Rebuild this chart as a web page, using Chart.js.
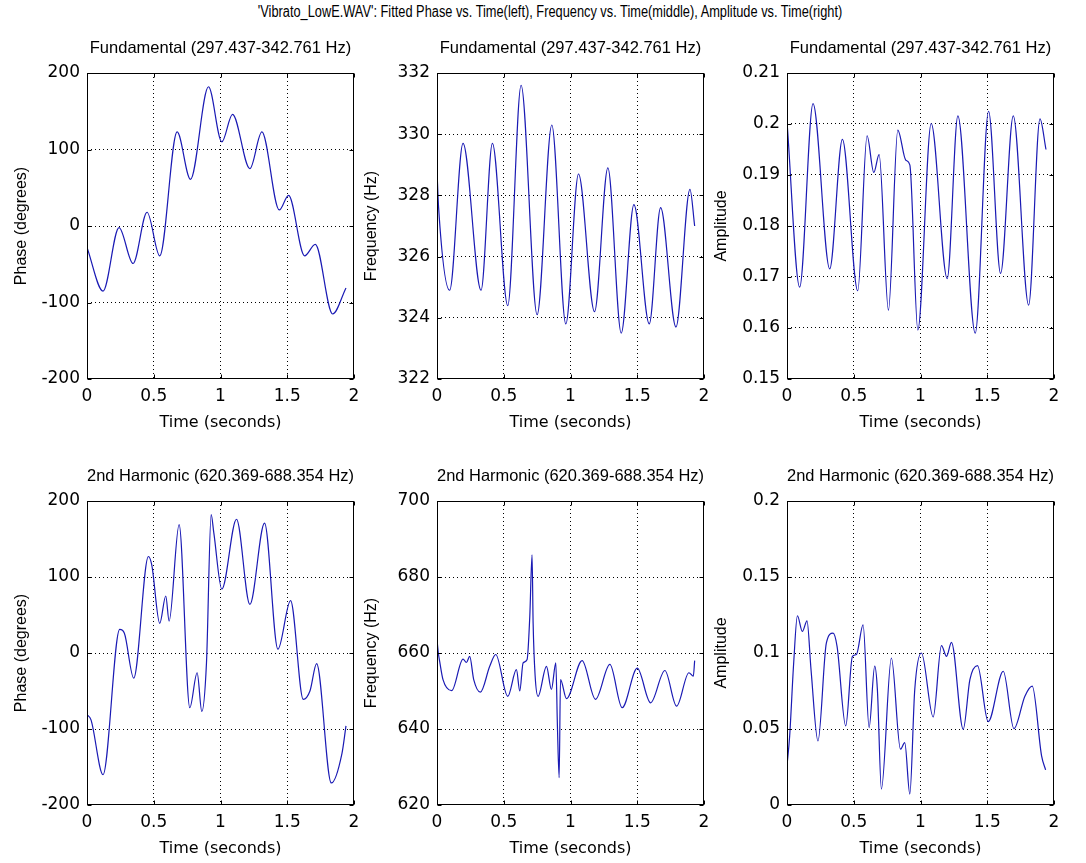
<!DOCTYPE html>
<html>
<head>
<meta charset="utf-8">
<script src="https://cdn.jsdelivr.net/npm/chart.js@4.4.1/dist/chart.umd.min.js"></script>
<style>
  html, body { margin: 0; padding: 0; background: #fff; }
  body { width: 1086px; height: 863px; position: relative; overflow: hidden; }
  canvas { position: absolute; }
  #suptitle { position: absolute; top: 3px; left: 0; width: 1100px; text-align: center;
    font: 16px "Liberation Sans", Arial, sans-serif; color: #000; white-space: nowrap;
    transform: scaleX(0.8); transform-origin: 550px 0; }
</style>
</head>
<body>
<div id="suptitle">'Vibrato_LowE.WAV': Fitted Phase vs. Time(left), Frequency vs. Time(middle), Amplitude vs. Time(right)</div>
<canvas id="c0"></canvas><canvas id="c1"></canvas><canvas id="c2"></canvas>
<canvas id="c3"></canvas><canvas id="c4"></canvas><canvas id="c5"></canvas>
<script>
// ---- time axis ----
const timeTicks = [0, 0.5, 1, 1.5, 2];

// ---- fundamental: phase (degrees) ----
const fundPhaseT = [0, 0.12, 0.24, 0.345, 0.45, 0.545, 0.675, 0.775, 0.91, 1.01, 1.09, 1.22, 1.31, 1.44, 1.51, 1.63, 1.71, 1.84, 1.94];
const fundPhaseV = [-28, -85, -2, -49, 18, -39, 123, 61, 182, 110, 146, 75, 123, 21, 40, -39, -24, -115, -81];
const phaseTicks = [-200, -100, 0, 100, 200];

// ---- fundamental: frequency (Hz) ----
const fundFreqT = [0, 0.012, 0.095, 0.195, 0.33, 0.415, 0.53, 0.63, 0.75, 0.86, 0.965, 1.06, 1.18, 1.28, 1.38, 1.475, 1.59, 1.675, 1.79, 1.895, 1.93];
const fundFreqV = [328.8, 327.6, 324.9, 329.7, 324.9, 329.7, 324.4, 331.6, 324.1, 330.3, 323.8, 328.7, 324.2, 328.9, 323.5, 327.7, 323.8, 327.6, 323.7, 328.2, 327.0];
const fundFreqTicks = [322, 324, 326, 328, 330, 332];

// ---- fundamental: amplitude ----
const fundAmpT = [0, 0.095, 0.195, 0.32, 0.415, 0.53, 0.60, 0.65, 0.69, 0.76, 0.83, 0.89, 0.92, 0.98, 1.08, 1.2, 1.28, 1.41, 1.51, 1.60, 1.695, 1.81, 1.895, 1.94];
const fundAmpV = [0.2005, 0.168, 0.204, 0.1716, 0.197, 0.1673, 0.1977, 0.1905, 0.194, 0.1635, 0.1988, 0.1929, 0.192, 0.1596, 0.2001, 0.1697, 0.2016, 0.159, 0.2025, 0.1707, 0.2016, 0.1645, 0.201, 0.195];
const fundAmpTicks = [0.15, 0.16, 0.17, 0.18, 0.19, 0.2, 0.21];

// ---- 2nd harmonic: phase (degrees) ----
const harmPhaseT = [0, 0.03, 0.12, 0.245, 0.28, 0.35, 0.46, 0.485, 0.545, 0.59, 0.615, 0.69, 0.77, 0.825, 0.86, 0.895, 0.93, 0.95, 1.01, 1.12, 1.22, 1.33, 1.43, 1.525, 1.62, 1.67, 1.72, 1.83, 1.91, 1.94];
const harmPhaseV = [-81, -88, -160, 31, 26, -33, 127, 116, 39, 75, 42, 169, -72, -26, -77, -13, 182, 158, 84, 176, 64, 171, 5, 69, -61, -50, -14, -171, -132, -96];

// ---- 2nd harmonic: frequency (Hz) ----
const harmFreqT = [0, 0.01, 0.02, 0.045, 0.11, 0.195, 0.22, 0.245, 0.275, 0.325, 0.395, 0.44, 0.53, 0.595, 0.62, 0.645, 0.675, 0.695, 0.712, 0.72, 0.735, 0.757, 0.82, 0.857, 0.89, 0.902, 0.915, 0.925, 0.97, 1.087, 1.187, 1.295, 1.387, 1.5, 1.6, 1.707, 1.795, 1.887, 1.92, 1.93];
const harmFreqV = [663.5, 660, 657.8, 653, 650.1, 658.4, 657.5, 659.1, 653, 649.7, 656.5, 659.6, 648.6, 655.6, 650, 657.4, 658.3, 669.6, 685.8, 667.9, 654, 648.6, 656.5, 650.4, 657.4, 640.8, 627.2, 653, 648, 658, 647.8, 657, 645.6, 656, 646.9, 655.4, 646, 654.8, 653.9, 658];
const harmFreqTicks = [620, 640, 660, 680, 700];

// ---- 2nd harmonic: amplitude ----
const harmAmpT = [0, 0.02, 0.05, 0.078, 0.115, 0.15, 0.18, 0.232, 0.295, 0.345, 0.375, 0.44, 0.49, 0.52, 0.57, 0.615, 0.657, 0.677, 0.707, 0.782, 0.85, 0.882, 0.92, 0.957, 1.007, 1.095, 1.157, 1.195, 1.232, 1.32, 1.37, 1.427, 1.507, 1.62, 1.70, 1.782, 1.837, 1.907, 1.937];
const harmAmpV = [0.0258, 0.0454, 0.0934, 0.1245, 0.1142, 0.1212, 0.089, 0.0421, 0.1066, 0.1131, 0.1044, 0.052, 0.0978, 0.099, 0.1186, 0.0509, 0.0913, 0.076, 0.0105, 0.0967, 0.0367, 0.041, 0.0072, 0.076, 0.1, 0.0579, 0.1048, 0.0978, 0.107, 0.0498, 0.0825, 0.0917, 0.0548, 0.088, 0.0502, 0.0716, 0.0782, 0.0323, 0.0231];
const harmAmpTicks = [0, 0.05, 0.1, 0.15, 0.2];

const fundTitle = 'Fundamental (297.437-342.761 Hz)';
const harmTitle = '2nd Harmonic (620.369-688.354 Hz)';

// ---- figure geometry ----
const colLeft = [87, 437, 787];
const plotW = 267;
const rowTop = [73, 501];
const rowH = [306, 304];
const yAxisW = 87, xAxisH = 53, titleH = 60, rightPad = 20;

const FONT = '"Liberation Sans", Arial, sans-serif';
const TICK_FONT = '"DejaVu Sans", Verdana, sans-serif';
const LINE = '#1a1ab4';

// axes box with inward tick marks on all four sides
const boxPlugin = {
  id: 'box',
  afterDatasetsDraw(chart) {
    const { ctx, chartArea: a, scales } = chart;
    const L = Math.round(a.left) + 0.5, R = Math.round(a.right) - 0.5;
    const T = Math.round(a.top) + 0.5, B = Math.round(a.bottom) - 0.5;
    ctx.save();
    ctx.setLineDash([]);
    ctx.strokeStyle = '#000';
    ctx.lineWidth = 1;
    ctx.beginPath();
    const tl = 4;
    scales.x.ticks.forEach(t => {
      const p = Math.round(scales.x.getPixelForValue(t.value)) + 0.5;
      ctx.moveTo(p, B); ctx.lineTo(p, B - tl);
      ctx.moveTo(p, T); ctx.lineTo(p, T + tl);
    });
    scales.y.ticks.forEach(t => {
      const p = Math.round(scales.y.getPixelForValue(t.value)) + 0.5;
      ctx.moveTo(L, p); ctx.lineTo(L + tl, p);
      ctx.moveTo(R, p); ctx.lineTo(R - tl, p);
    });
    ctx.stroke();
    ctx.strokeRect(L, T, R - L, B - T);
    ctx.restore();
  }
};

function makePlot(id, col, row, title, yLabel, times, values, yTicks) {
  const cv = document.getElementById(id);
  const w = yAxisW + plotW + rightPad;
  const h = titleH + rowH[row] + xAxisH;
  cv.width = w; cv.height = h;
  cv.style.left = (colLeft[col] - yAxisW) + 'px';
  cv.style.top = (rowTop[row] - titleH) + 'px';
  cv.style.width = w + 'px'; cv.style.height = h + 'px';

  const pts = times.map((t, i) => ({ x: t, y: values[i] }));
  const tickFont = { family: TICK_FONT, size: 17 };
  const gridOpts = {
    color: ctx => (ctx.index === 0 || ctx.index === ctx.scale.ticks.length - 1) ? 'rgba(0,0,0,0)' : '#000',
    lineWidth: 1,
    drawTicks: false
  };
  new Chart(cv, {
    type: 'line',
    data: { datasets: [{ data: pts, borderColor: LINE, borderWidth: 1.2, pointRadius: 0,
      fill: false, cubicInterpolationMode: 'monotone' }] },
    options: {
      responsive: false,
      animation: false,
      devicePixelRatio: 1,
      layout: { padding: { left: 0, right: rightPad, top: 0, bottom: 0 } },
      plugins: {
        legend: { display: false },
        tooltip: { enabled: false },
        title: { display: true, text: title, fullSize: false, color: '#000',
          font: { family: FONT, size: 16.5, weight: 'normal', lineHeight: 1 },
          padding: { top: 27, bottom: 16.5 } }
      },
      scales: {
        x: {
          type: 'linear', min: 0, max: 2,
          afterBuildTicks: s => { s.ticks = timeTicks.map(v => ({ value: v })); },
          afterFit: s => { s.height = xAxisH; },
          ticks: { color: '#000', font: tickFont, padding: 7, maxRotation: 0, autoSkip: false,
            callback: v => String(v) },
          grid: gridOpts,
          border: { display: false, dash: [1, 3] },
          title: { display: true, text: 'Time (seconds)', color: '#000',
            font: { family: TICK_FONT, size: 16 }, padding: { top: 0, bottom: 0 } }
        },
        y: {
          type: 'linear', min: yTicks[0], max: yTicks[yTicks.length - 1],
          afterBuildTicks: s => { s.ticks = yTicks.map(v => ({ value: v })); },
          afterFit: s => { s.width = yAxisW; },
          ticks: { color: '#000', font: tickFont, padding: 7, autoSkip: false,
            callback: v => String(+v.toFixed(4)) },
          grid: gridOpts,
          border: { display: false, dash: [1, 3] },
          title: { display: true, text: yLabel, color: '#000',
            font: { family: FONT, size: 16 }, padding: { top: 12, bottom: 0 } }
        }
      }
    },
    plugins: [boxPlugin]
  });
}

makePlot('c0', 0, 0, fundTitle, 'Phase (degrees)', fundPhaseT, fundPhaseV, phaseTicks);
makePlot('c1', 1, 0, fundTitle, 'Frequency (Hz)', fundFreqT, fundFreqV, fundFreqTicks);
makePlot('c2', 2, 0, fundTitle, 'Amplitude', fundAmpT, fundAmpV, fundAmpTicks);
makePlot('c3', 0, 1, harmTitle, 'Phase (degrees)', harmPhaseT, harmPhaseV, phaseTicks);
makePlot('c4', 1, 1, harmTitle, 'Frequency (Hz)', harmFreqT, harmFreqV, harmFreqTicks);
makePlot('c5', 2, 1, harmTitle, 'Amplitude', harmAmpT, harmAmpV, harmAmpTicks);
</script>
</body>
</html>
